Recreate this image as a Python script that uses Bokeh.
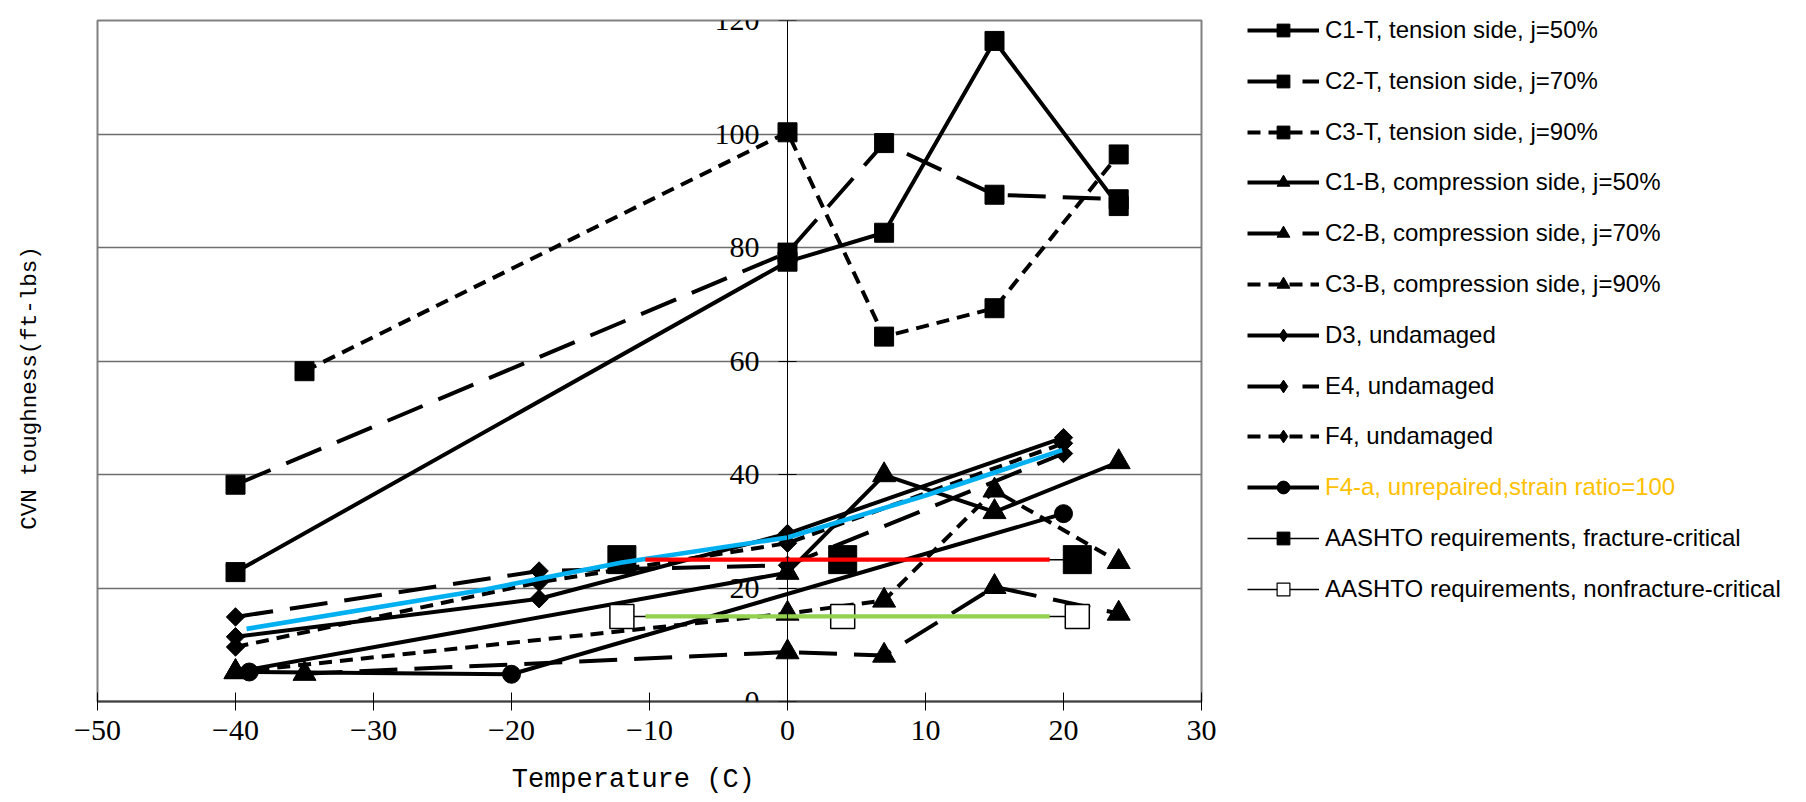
from bokeh.plotting import figure
from bokeh.models import (LinearAxis, FixedTicker, Grid, Legend, LegendItem, Range1d)
from bokeh.layouts import row
from bokeh.embed import file_html
from bokeh.resources import INLINE
import math

# ---------------- data ----------------
c1t_temp = [-40, 0, 7, 15, 24]
c1t_cvn = [22.8, 77.5, 82.6, 116.4, 87.3]
c2t_temp = [-40, 0, 7, 15, 24]
c2t_cvn = [38.2, 79.1, 98.4, 89.3, 88.5]
c3t_temp = [-35, 0, 7, 15, 24]
c3t_cvn = [58.2, 100.3, 64.3, 69.3, 96.4]

c1b_temp = [-40, 0, 7, 15, 24]
c1b_cvn = [5.2, 22.7, 39.9, 33.4, 42.2]
c2b_temp = [-35, 0, 7, 15, 24]
c2b_cvn = [4.9, 8.7, 8.1, 20.2, 15.5]
c3b_temp = [-40, 0, 7, 15, 24]
c3b_cvn = [5.2, 15.5, 17.8, 37.2, 24.6]

d3_temp = [-40, -18, 0, 20]
d3_cvn = [11.4, 18.1, 29.6, 46.5]
e4_temp = [-40, -18, 0, 20]
e4_cvn = [14.9, 23.0, 24.0, 43.7]
f4_temp = [-40, -18, 0, 20]
f4_cvn = [9.6, 21.0, 27.9, 45.5]

f4a_temp = [-39, -20, 20]
f4a_cvn = [5.2, 4.8, 33.1]

aashto_temp = [-12, 4, 21]
aashto_fc_cvn = [25, 25, 25]
aashto_nfc_cvn = [15, 15, 15]

# coloured reference lines
req_line_temp = [-10.3, 19]
req_fc_line_cvn = [25, 25]
req_nfc_line_cvn = [15, 15]

# light-blue trend of undamaged specimens
trend_temp = [-39.2, -22, -12, 0, 10, 19.9]
trend_cvn = [12.8, 19.7, 24.5, 28.9, 36.3, 44.3]

x_ticks = [-50, -40, -30, -20, -10, 0, 10, 20, 30]
x_tick_labels = ["\u221250", "\u221240", "\u221230", "\u221220", "\u221210", "0", "10", "20", "30"]
y_ticks = [0, 20, 40, 60, 80, 100, 120]
y_tick_labels = ["0", "20", "40", "60", "80", "100", "120"]

x_title = "Temperature (C)"
y_title = "CVN toughness(ft-lbs)"

legend_labels = [
    "C1-T, tension side, j=50%",
    "C2-T, tension side, j=70%",
    "C3-T, tension side, j=90%",
    "C1-B, compression side, j=50%",
    "C2-B, compression side, j=70%",
    "C3-B, compression side, j=90%",
    "D3, undamaged",
    "E4, undamaged",
    "F4, undamaged",
    "F4-a, unrepaired,strain ratio=100",
    "AASHTO requirements, fracture-critical",
    "AASHTO requirements, nonfracture-critical",
]
legend_text_colors = ["black"] * 9 + ["#FFC000"] + ["black"] * 2

# ---------------- styles ----------------
LW = 4.0
LONG = "38 17"
SHORT = "13 8"
DIA = math.pi / 4
series = [
    # temps, values, dash, marker(plot), size, angle, marker(legend), fill, line width
    (c1t_temp, c1t_cvn, "solid", "square", 19, 0, "square", "black", LW),
    (c2t_temp, c2t_cvn, LONG, "square", 19, 0, "square", "black", LW),
    (c3t_temp, c3t_cvn, SHORT, "square", 19, 0, "square", "black", LW),
    (c1b_temp, c1b_cvn, "solid", "triangle", 23, 0, "triangle", "black", LW),
    (c2b_temp, c2b_cvn, LONG, "triangle", 23, 0, "triangle", "black", LW),
    (c3b_temp, c3b_cvn, SHORT, "triangle", 23, 0, "triangle", "black", LW),
    (d3_temp, d3_cvn, "solid", "square", 13, DIA, "diamond", "black", LW),
    (e4_temp, e4_cvn, LONG, "square", 13, DIA, "diamond", "black", LW),
    (f4_temp, f4_cvn, SHORT, "square", 13, DIA, "diamond", "black", LW),
    (f4a_temp, f4a_cvn, "solid", "circle", 18, 0, "circle", "black", LW),
    (aashto_temp, aashto_fc_cvn, "solid", "square", 28, 0, "square", "black", 1.5),
    (aashto_temp, aashto_nfc_cvn, "solid", "square", 24, 0, "square", "white", 1.5),
]

H = 802
W_MAIN = 1223
W_LEG = 1800 - W_MAIN
FRAME_LEFT = 97
FRAME_TOP = 20
FRAME_BOTTOM = 701
BORDER_BOTTOM = H - FRAME_BOTTOM

p = figure(width=W_MAIN, height=H, x_range=Range1d(-50, 30), y_range=Range1d(0, 120),
           output_backend="svg", toolbar_location=None, y_axis_location=None, title=None,
           min_border_left=FRAME_LEFT, min_border_right=22, min_border_top=FRAME_TOP,
           min_border_bottom=BORDER_BOTTOM)
p.grid.visible = False
p.outline_line_color = "#808080"
p.outline_line_width = 2
p.background_fill_color = "white"

ygrid = Grid(dimension=1, ticker=FixedTicker(ticks=y_ticks),
             grid_line_color="#6e6e6e", grid_line_width=1.5)
p.add_layout(ygrid)

TICK_FONT = "Liberation Serif"
xax = p.xaxis[0]
xax.ticker = FixedTicker(ticks=x_ticks)
xax.major_label_overrides = dict(zip(x_ticks, x_tick_labels))
xax.major_tick_in = 9
xax.major_tick_out = 9
xax.minor_tick_line_color = None
xax.axis_line_color = "#404040"
xax.axis_line_width = 2
xax.major_tick_line_color = "black"
xax.major_tick_line_width = 1
xax.major_label_text_font = TICK_FONT
xax.major_label_text_font_size = "30px"
xax.major_label_text_color = "black"
xax.major_label_standoff = 10
# title centred on the frame; two no-break spaces move the visible text left
xax.axis_label = x_title + "\u00a0\u00a0"
xax.axis_label_standoff = 22
xax.axis_label_text_font = "Liberation Mono"
xax.axis_label_text_font_size = "27px"
xax.axis_label_text_font_style = "normal"
xax.axis_label_text_color = "black"

# y axis drawn through x = 0
yax = LinearAxis(fixed_location=0, ticker=FixedTicker(ticks=y_ticks),
                 major_label_overrides=dict(zip(y_ticks, y_tick_labels)),
                 major_tick_in=9, major_tick_out=9, minor_tick_line_color=None,
                 axis_line_color="black", axis_line_width=1,
                 major_tick_line_color="black", major_tick_line_width=1,
                 major_label_text_font=TICK_FONT, major_label_text_font_size="30px",
                 major_label_text_color="black", major_label_standoff=19)
p.add_layout(yax, "left")

# bare axis at the left edge carrying only the y title
ytitle_ax = LinearAxis(ticker=FixedTicker(ticks=[]), axis_line_color=None,
                       major_tick_line_color=None, minor_tick_line_color=None,
                       axis_label=y_title + "\u00a0\u00a0\u00a0\u00a0",
                       axis_label_standoff=55,
                       axis_label_text_font="Liberation Mono",
                       axis_label_text_font_size="22.5px",
                       axis_label_text_font_style="normal",
                       axis_label_text_color="black")
p.add_layout(ytitle_ax, "left")

# legend figure (its renderers lie outside its visible range; only legends show)
p2 = figure(width=W_LEG, height=H, x_range=Range1d(1000, 1001), y_range=Range1d(1000, 1001),
            output_backend="svg", toolbar_location=None, x_axis_location=None,
            y_axis_location=None, title=None, min_border=0,
            min_border_top=FRAME_TOP, min_border_bottom=BORDER_BOTTOM)
p2.grid.visible = False
p2.outline_line_color = None

leg_renderers = []
for (tx, ty, dash, marker, size, ang, lmarker, fill, lw) in series:
    p.line(tx, ty, line_color="black", line_width=lw, line_dash=dash, line_join="round")
    p.scatter(tx, ty, marker=marker, size=size, angle=ang, fill_color=fill, line_color="black",
              line_width=1.5 if fill == "white" else 1)
    r1 = p2.line(tx, ty, line_color="black", line_width=lw, line_dash=dash, line_join="round")
    r2 = p2.scatter(tx, ty, marker=lmarker, size=size, fill_color=fill,
                    line_color="black", line_width=1.2 if fill == "white" else 1)
    leg_renderers.append([r1, r2])

# coloured overlay lines
p.line(trend_temp, trend_cvn, line_color="#00B0F0", line_width=4.6, line_join="round")
p.line(req_line_temp, req_fc_line_cvn, line_color="#FF0000", line_width=4.2)
p.line(req_line_temp, req_nfc_line_cvn, line_color="#92D050", line_width=4.2)

ITEM_H = 32
for i, (lab, rends, col) in enumerate(zip(legend_labels, leg_renderers, legend_text_colors)):
    yc = 30 + i * 50.8            # item centre, px from canvas top
    top = yc - ITEM_H / 2
    vy = FRAME_BOTTOM - top - ITEM_H
    leg = Legend(items=[LegendItem(label=lab, renderers=rends)], location=(24, vy),
                 padding=0, margin=0, spacing=0, border_line_color=None,
                 background_fill_alpha=0, glyph_width=72, glyph_height=ITEM_H,
                 label_height=ITEM_H, label_standoff=6,
                 label_text_font="Liberation Sans", label_text_font_size="24px",
                 label_text_color=col)
    p2.add_layout(leg)

layout = row(p, p2)
open("out.html", "w").write(file_html(layout, INLINE))
